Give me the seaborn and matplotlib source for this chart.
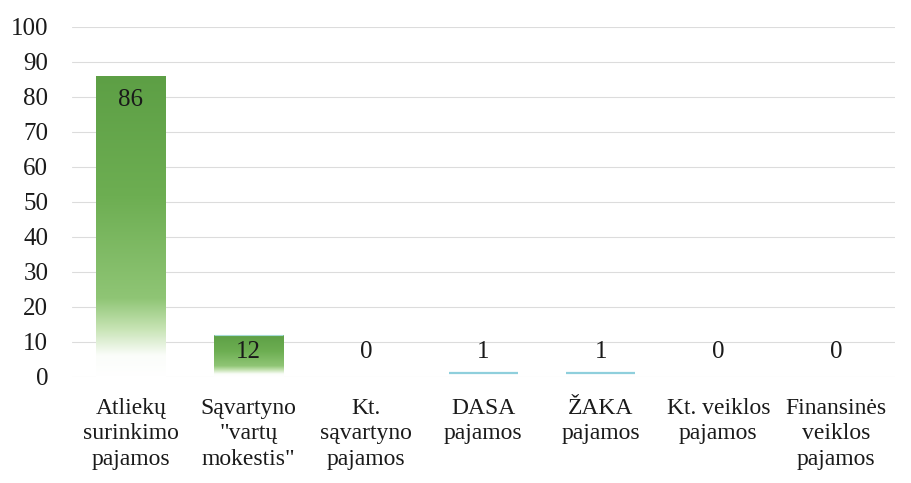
import numpy as np
import pandas as pd
import matplotlib
matplotlib.use('Agg')
import matplotlib.pyplot as plt
import seaborn as sns
from matplotlib.colors import LinearSegmentedColormap

# Chart data
categories = ['Atliekų\nsurinkimo\npajamos', 'Sąvartyno\n"vartų\nmokestis"',
              'Kt.\nsąvartyno\npajamos', 'DASA\npajamos', 'ŽAKA\npajamos',
              'Kt. veiklos\npajamos', 'Finansinės\nveiklos\npajamos']
values = [86, 12, 0, 1, 1, 0, 0]
y_ticks = [0, 10, 20, 30, 40, 50, 60, 70, 80, 90, 100]

df = pd.DataFrame({'kategorija': categories, 'reiksme': values})

sns.set_style('white')
plt.rcParams['font.family'] = ['Liberation Serif', 'DejaVu Serif']

fig, ax = plt.subplots(figsize=(9.11, 4.83), dpi=100)
fig.subplots_adjust(left=0.079, right=0.982, top=0.945, bottom=0.22)

sns.barplot(data=df, x='kategorija', y='reiksme', color='#6aab50', width=0.59, ax=ax)

# green fade gradient, white at the bottom
green_cmap = LinearSegmentedColormap.from_list(
    'fade', [(0.0, '#ffffff'), (0.07, '#fbfdfa'), (0.16, '#c6e3b3'),
             (0.26, '#8fc575'), (0.6, '#6dae52'), (1.0, '#5d9f45')])
grad = np.linspace(0, 1, 256).reshape(-1, 1)

for patch, v in zip(ax.patches, values):
    x0, y0 = patch.get_x(), patch.get_y()
    w, h = patch.get_width(), patch.get_height()
    if h <= 0:
        continue
    patch.set_facecolor('none')
    patch.set_edgecolor('none')
    if v <= 1:
        ax.hlines(h, x0, x0 + w, color='#8fcfdc', lw=1.6, zorder=3)
        continue
    im = ax.imshow(grad, cmap=green_cmap, aspect='auto', origin='lower',
                   extent=[x0, x0 + w, y0, y0 + h], zorder=2)
    im.set_clip_path(patch)
    if v < 20:
        ax.hlines(h, x0, x0 + w, color='#a6dbd6', lw=0.8, zorder=3)

# value labels
for i, v in enumerate(values):
    ax.text(i, max(v - 7, 7), str(v), ha='center', va='center',
            fontsize=18, color='#1a1a1a', zorder=4)

ax.set_ylim(0, 100)
ax.set_xlim(-0.5, len(categories) - 0.5)
ax.set_yticks(y_ticks)
ax.yaxis.grid(True, color='#dcdcdc', lw=0.8)
ax.set_axisbelow(True)
ax.tick_params(axis='y', labelsize=18, length=0, pad=17, colors='#1a1a1a')
ax.tick_params(axis='x', labelsize=17, length=0, pad=15, colors='#1a1a1a')
for lbl in ax.get_xticklabels():
    lbl.set_linespacing(1.3)
ax.set_xlabel('')
ax.set_ylabel('')
for s in ax.spines.values():
    s.set_visible(False)

plt.savefig('out.png', dpi=100)
plt.close()
